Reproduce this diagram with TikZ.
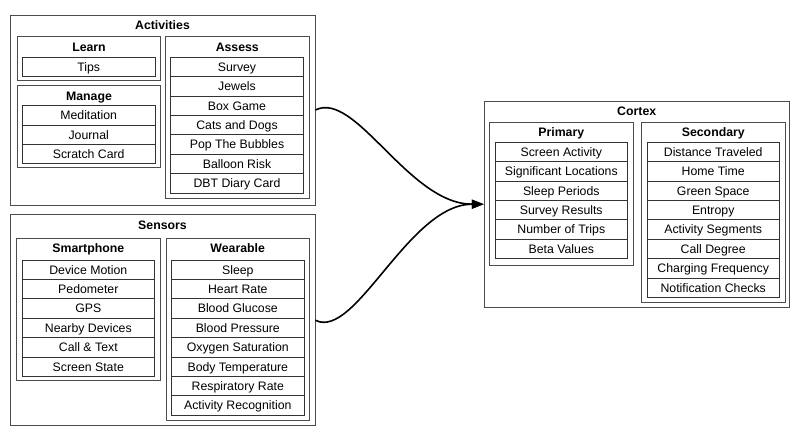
\documentclass[tikz,border=0pt]{standalone}
\usepackage{fontspec}
\setmainfont{Liberation Sans}
\usepackage{tikz}
\usetikzlibrary{shapes,arrows.meta,calc,positioning}
\tikzstyle{frame} = [draw=black!70, line width=0.9pt, rectangle, minimum width=305pt, inner sep=0pt]
\tikzstyle{group} = [draw=black!70, line width=0.9pt, rectangle, minimum width=143.4pt, inner sep=0pt]
\tikzstyle{item} = [draw=black!80, line width=0.9pt, rectangle, minimum width=132.5pt, minimum height=19.4pt, inner sep=0pt, outer sep=0pt, text height=8.8pt, text depth=0pt, font=\fontsize{12.3}{14}\selectfont]
\tikzstyle{title} = [inner sep=0pt, text height=9pt, text depth=0pt, font=\fontsize{12.3}{14}\selectfont\bfseries]
\tikzstyle{line} = [draw, line width=1.6pt, -{Triangle[length=12pt,width=9pt]}]

\begin{document}
\begin{tikzpicture}[x=1pt, y=-1pt]
        \useasboundingbox (0,0) rectangle (800,435);
        % activities
        \node[frame, minimum height=190pt] (act) at (162.5,110) {};
        \node[title, below=5.8pt of act.north] (acttitle) {Activities};
        \node[group, minimum height=44pt] (learn) at (89,58.7) {};
        \node[title, below=5.8pt of learn.north] (learntitle) {Learn};
        \node[item] (tips) at (88.7,66.7) {Tips};
        \node[group, minimum height=81.7pt] (manage) at (89,126.8) {};
        \node[title, below=5.8pt of manage.north] (managetitle) {Manage};
        \node[item] (medit) at (88.7,115.4) {Meditation};
        \node[item, below=0pt of medit] (journal) {Journal};
        \node[item, below=0pt of journal] (scratch) {Scratch Card};
        \node[group, minimum height=162.3pt] (assess) at (237.3,117.8) {};
        \node[title, below=5.8pt of assess.north] (assesstitle) {Assess};
        \node[item] (survey) at (237,67) {Survey};
        \node[item, below=0pt of survey] (jewels) {Jewels};
        \node[item, below=0pt of jewels] (boxgame) {Box Game};
        \node[item, below=0pt of boxgame] (catsdogs) {Cats and Dogs};
        \node[item, below=0pt of catsdogs] (bubbles) {Pop The Bubbles};
        \node[item, below=0pt of bubbles] (balloon) {Balloon Risk};
        \node[item, below=0pt of balloon] (dbt) {DBT Diary Card};
        % sensors
        \node[frame, minimum height=210.7pt] (sens) at (162.5,320.3) {};
        \node[title, below=5.8pt of sens.north] (senstitle) {Sensors};
        \node[group, minimum height=141.7pt] (phone) at (88.3,309.2) {};
        \node[title, below=5.8pt of phone.north] (phonetitle) {Smartphone};
        \node[item] (motion) at (88.3,269.7) {Device Motion};
        \node[item, below=0pt of motion] (pedo) {Pedometer};
        \node[item, below=0pt of pedo] (gps) {GPS};
        \node[item, below=0pt of gps] (nearby) {Nearby Devices};
        \node[item, below=0pt of nearby] (calltext) {Call \& Text};
        \node[item, below=0pt of calltext] (screen) {Screen State};
        \node[group, minimum height=181.7pt] (wear) at (237.7,329.2) {};
        \node[title, below=5.8pt of wear.north] (weartitle) {Wearable};
        \node[item] (sleep) at (237.8,269.7) {Sleep};
        \node[item, below=0pt of sleep] (heart) {Heart Rate};
        \node[item, below=0pt of heart] (glucose) {Blood Glucose};
        \node[item, below=0pt of glucose] (pressure) {Blood Pressure};
        \node[item, below=0pt of pressure] (oxygen) {Oxygen Saturation};
        \node[item, below=0pt of oxygen] (temp) {Body Temperature};
        \node[item, below=0pt of temp] (resp) {Respiratory Rate};
        \node[item, below=0pt of resp] (actrec) {Activity Recognition};
        % cortex
        \node[frame, minimum height=206.3pt] (cortex) at (636.7,204.2) {};
        \node[title, below=5.8pt of cortex.north] (cortextitle) {Cortex};
        \node[group, minimum height=142.7pt] (primary) at (561.3,193.7) {};
        \node[title, below=5.8pt of primary.north] (primarytitle) {Primary};
        \node[item] (scract) at (561.3,152) {Screen Activity};
        \node[item, below=0pt of scract] (signif) {Significant Locations};
        \node[item, below=0pt of signif] (sleepper) {Sleep Periods};
        \node[item, below=0pt of sleepper] (results) {Survey Results};
        \node[item, below=0pt of results] (trips) {Number of Trips};
        \node[item, below=0pt of trips] (beta) {Beta Values};
        \node[group, minimum height=180pt] (second) at (713.3,212.3) {};
        \node[title, below=5.8pt of second.north] (secondtitle) {Secondary};
        \node[item] (distance) at (713.2,152) {Distance Traveled};
        \node[item, below=0pt of distance] (home) {Home Time};
        \node[item, below=0pt of home] (green) {Green Space};
        \node[item, below=0pt of green] (entropy) {Entropy};
        \node[item, below=0pt of entropy] (segments) {Activity Segments};
        \node[item, below=0pt of segments] (degree) {Call Degree};
        \node[item, below=0pt of degree] (charging) {Charging Frequency};
        \node[item, below=0pt of charging] (notif) {Notification Checks};
        % connectors
        \path[line] (act.east) .. controls +(40pt,20pt) and +(-75pt,0pt) .. (cortex.west);
        \path[line] (sens.east) .. controls +(40pt,-20pt) and +(-75pt,0pt) .. (cortex.west);
\end{tikzpicture}
\end{document}
